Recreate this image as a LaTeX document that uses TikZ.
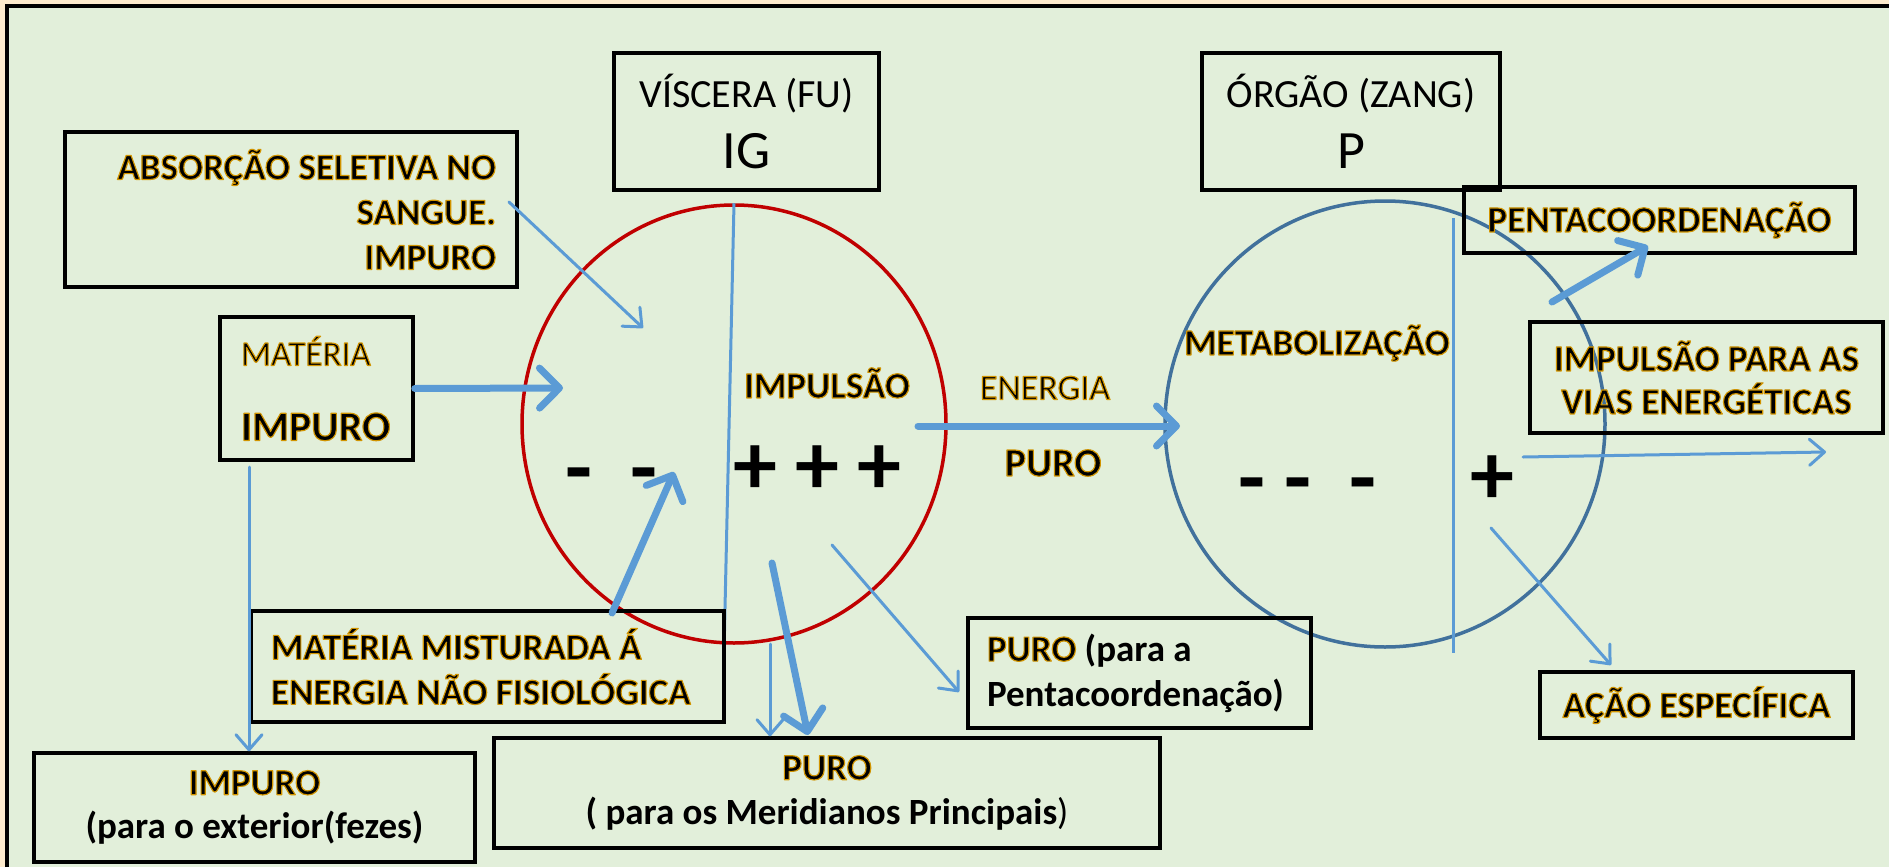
\documentclass[tikz,border=0pt]{standalone}
\usepackage{fontspec}
\setmainfont{Carlito}
\usetikzlibrary{arrows.meta,shapes.geometric}

\definecolor{bggreen}{RGB}{226,239,218}
\definecolor{bgpeach}{RGB}{253,235,205}
\definecolor{fured}{RGB}{192,0,0}
\definecolor{zangblue}{RGB}{65,113,156}
\definecolor{flowblue}{RGB}{91,155,213}

% gold outlined text (fill and stroke in one go)
\newcommand{\ouro}[1]{\special{pdf:code q 2 Tr 1.15 w 1 j 0.82 0.58 0 RG}#1\special{pdf:code Q}}
\newcommand{\lbl}{\fontsize{37}{45}\selectfont\bfseries}

\begin{document}
\begin{tikzpicture}[x=1pt, y=-1pt,
    box/.style={draw, line width=3.5pt, inner sep=0pt},
    thin flow/.style={draw=flowblue, line width=3pt, line cap=round, -{Straight Barb[length=15pt,width=26pt,round]}},
    thick flow/.style={draw=flowblue, line width=7pt, line cap=round, -{Straight Barb[length=20pt,width=40pt,round]}},
    divider/.style={draw=flowblue, line width=3pt},
    sign/.style={font=\fontsize{88}{88}\selectfont\bfseries, inner sep=0pt}]
    \useasboundingbox (0,0) rectangle (1889,867);
    \fill[bgpeach] (0,0) rectangle (1889,867);
    \fill[bggreen] (6.5,6.5) rectangle (1889,867);
    \draw[line width=4pt] (6.5,867) -- (6.5,6.5) -- (1889,6.5);

    % the two organs
    \node[ellipse, draw=fured, line width=3.5pt, inner sep=0pt, minimum width=424, minimum height=438] (fu) at (734,424) {};
    \node[ellipse, draw=zangblue, line width=3.5pt, inner sep=0pt, minimum width=440, minimum height=446] (zang) at (1385,424) {};
    \coordinate (fubase) at (724,653);
    \coordinate (zangtop) at (1453,218);
    \coordinate (zangbase) at (1453,653);
    \draw[divider] (fu.north) -- (fubase);
    \draw[divider] (zangtop) -- (zangbase);

    % boxes
    \node[box, minimum width=265, minimum height=137, align=center, font=\fontsize{40}{61}\selectfont] (visc) at (746.5,121.5) {VÍSCERA (FU)\\{\fontsize{54}{61}\selectfont IG}};
    \node[box, minimum width=298, minimum height=137, align=center, font=\fontsize{40}{61}\selectfont] (orgao) at (1351,121.5) {ÓRGÃO (ZANG)\\{\fontsize{54}{61}\selectfont P}};
    \node[box, minimum width=452, minimum height=155, text width=410, align=flush right, font=\lbl] (absor) at (291,209.5) {\ouro{ABSORÇÃO SELETIVA NO}\\\ouro{SANGUE.}\\\ouro{IMPURO}};
    \node[box, minimum width=193, minimum height=143, text width=151, align=flush left, font=\fontsize{35}{75}\selectfont] (materia) at (316.5,388.5) {\ouro{MATÉRIA}\\{\fontsize{42}{75}\selectfont\bfseries\ouro{IMPURO}}};
    \node[box, minimum width=473, minimum height=111, text width=433, align=flush left, font=\lbl] (mistur) at (487.5,666.5) {\ouro{MATÉRIA MISTURADA Á}\\\ouro{ENERGIA NÃO FISIOLÓGICA}};
    \node[box, minimum width=441, minimum height=109, align=center, font=\fontsize{37}{44}\selectfont\bfseries] (impext) at (254.5,807.5) {\ouro{IMPURO}\\(para o exterior(fezes)};
    \node[box, minimum width=666, minimum height=110, align=center, font=\lbl] (purmer) at (827,793) {\ouro{PURO}\\( para os Meridianos Principais{\mdseries)}};
    \node[box, minimum width=343, minimum height=110, text width=305, align=flush left, font=\lbl] (purpent) at (1139.5,673) {\ouro{PURO} (para a\\Pentacoordenação)};
    \node[box, minimum width=391, minimum height=66, align=center, font=\lbl] (penta) at (1659.5,220) {\ouro{PENTACOORDENAÇÃO}};
    \node[box, minimum width=353, minimum height=111, align=center, font=\fontsize{37}{43}\selectfont\bfseries] (vias) at (1706.5,377.5) {\ouro{IMPULSÃO PARA AS}\\\ouro{VIAS ENERGÉTICAS}};
    \node[box, minimum width=313, minimum height=66, align=center, font=\lbl] (acao) at (1696.5,705) {\ouro{AÇÃO ESPECÍFICA}};

    % free labels
    \node[font=\lbl] (impulsao) at (827,383) {\ouro{IMPULSÃO}};
    \node[font=\fontsize{36}{40}\selectfont] (energia) at (1045,388) {\ouro{ENERGIA}};
    \node[font=\fontsize{40}{44}\selectfont\bfseries] (puro) at (1053,463) {\ouro{PURO}};
    \node[font=\lbl] (metab) at (1317,343) {\ouro{METABOLIZAÇÃO}};

    % signs
    \node[sign] (fuminus1) at (579,473) {\vphantom{+}-};
    \node[sign] (fuminus2) at (644,473) {\vphantom{+}-};
    \node[sign] (fuplus1) at (755,470) {+};
    \node[sign] (fuplus2) at (817,470) {+};
    \node[sign] (fuplus3) at (879,470) {+};
    \node[sign] (zangminus1) at (1252,483) {\vphantom{+}-};
    \node[sign] (zangminus2) at (1298,483) {\vphantom{+}-};
    \node[sign] (zangminus3) at (1363,483) {\vphantom{+}-};
    \node[sign] (zangplus) at (1492,480) {+};

    % flows
    \coordinate (fuin) at (563,388);
    \coordinate (absin) at (509,202);
    \coordinate (absend) at (643,328);
    \coordinate (matdrop) at (249,467);
    \coordinate (mixout) at (612,613);
    \coordinate (mixend) at (674,472);
    \coordinate (fubot) at (770,644);
    \coordinate (merstart) at (772,563);
    \coordinate (merend) at (808,735);
    \coordinate (pentstart) at (832,545);
    \coordinate (pentend) at (959,692);
    \coordinate (enstart) at (918,426);
    \coordinate (enend) at (1180,426);
    \coordinate (zpstart) at (1552,302);
    \coordinate (zpend) at (1648,246);
    \coordinate (zvstart) at (1523,457);
    \coordinate (zvend) at (1826,452);
    \coordinate (zastart) at (1491,528);
    \coordinate (zaend) at (1611,665);

    \draw[thick flow] (materia.east) -- (fuin);
    \draw[thin flow] (absin) -- (absend);
    \draw[thick flow] (mixout) -- (mixend);
    \draw[thin flow] (matdrop) -- (matdrop |- impext.north);
    \draw[thin flow] (fubot) -- (fubot |- purmer.north);
    \draw[thick flow] (merstart) -- (merend);
    \draw[thin flow] (pentstart) -- (pentend);
    \draw[thick flow] (enstart) -- (enend);
    \draw[thick flow] (zpstart) -- (zpend);
    \draw[thin flow] (zvstart) -- (zvend);
    \draw[thin flow] (zastart) -- (zaend);
\end{tikzpicture}
\end{document}
